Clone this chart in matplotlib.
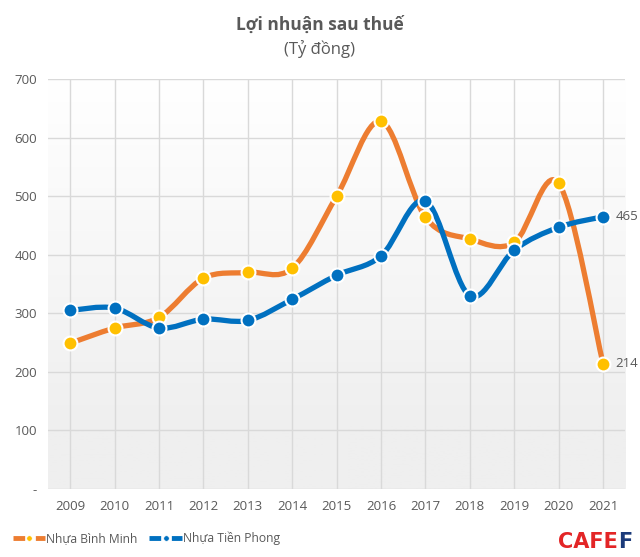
import numpy as np
import matplotlib
matplotlib.use("Agg")
import matplotlib.pyplot as plt
from matplotlib.path import Path
from matplotlib.patches import PathPatch
from matplotlib.lines import Line2D

years = ["2009", "2010", "2011", "2012", "2013", "2014", "2015",
         "2016", "2017", "2018", "2019", "2020", "2021"]
binh_minh = [249, 275, 293, 360, 370, 377, 500, 628, 464, 427, 421, 522, 214]
tien_phong = [305, 309, 275, 290, 288, 324, 365, 398, 492, 330, 408, 447, 465]
yticks = [0, 100, 200, 300, 400, 500, 600, 700]
ytick_labels = ["-", "100", "200", "300", "400", "500", "600", "700"]

ORANGE = "#ED7D31"
YELLOW = "#FFC000"
BLUE = "#0070C0"
GREY = "#595959"

plt.rcParams["font.family"] = ["Open Sans", "DejaVu Sans"]


def smooth_path(xs, ys):
    """Catmull-Rom style bezier path through the points (like Excel smoothing)."""
    pts = np.column_stack([xs, ys]).astype(float)
    n = len(pts)
    verts = [pts[0]]
    codes = [Path.MOVETO]
    for i in range(n - 1):
        p0 = pts[max(i - 1, 0)]
        p1 = pts[i]
        p2 = pts[i + 1]
        p3 = pts[min(i + 2, n - 1)]
        c1 = p1 + (p2 - p0) / 6.0
        c2 = p2 - (p3 - p1) / 6.0
        verts += [c1, c2, p2]
        codes += [Path.CURVE4] * 3
    return Path(verts, codes)


fig = plt.figure(figsize=(6.4, 5.57), dpi=100)
ax = fig.add_axes([0.075, 0.122, 0.902, 0.736])

x = np.arange(len(years))
ax.set_xlim(-0.5, len(years) - 0.5)
ax.set_ylim(0, 700)

# soft grey gradient in the plot area: white at top -> light grey at bottom
grad = np.linspace(1, 0, 256).reshape(-1, 1)
grad = np.clip(grad / 0.85, 0, 1)
bg_cmap = matplotlib.colors.LinearSegmentedColormap.from_list(
    "bg", ["#ffffff", "#efefef"])
ax.imshow(grad, extent=(-0.5, len(years) - 0.5, 0, 700), aspect="auto",
          cmap=bg_cmap, origin="lower", zorder=0, vmin=0, vmax=1)

for yv in yticks:
    ax.axhline(yv, color="#d9d9d9", lw=1.0, zorder=1)
for xv in x:
    ax.axvline(xv, color="#d9d9d9", lw=1.0, zorder=1)

for vals, col, mcol in [(binh_minh, ORANGE, YELLOW), (tien_phong, BLUE, BLUE)]:
    ax.add_patch(PathPatch(smooth_path(x, vals), fill=False, edgecolor=col,
                           lw=3.8, capstyle="round", zorder=3))
    ax.plot(x, vals, ls="none", marker="o", ms=10, mfc=mcol, mec="white",
            mew=1.5, zorder=4)

for vals in (tien_phong, binh_minh):
    ax.annotate(str(vals[-1]), (x[-1], vals[-1]), xytext=(9, 0),
                textcoords="offset points", va="center", ha="left",
                fontsize=9.5, color=GREY)

ax.set_xticks(x)
ax.set_xticklabels(years, fontsize=9.5, color=GREY)
ax.set_yticks(yticks)
ax.set_yticklabels(ytick_labels, fontsize=9.5, color=GREY)
ax.tick_params(length=0, pad=8)
for s in ax.spines.values():
    s.set_visible(False)

fig.text(0.5, 0.955, "Lợi nhuận sau thuế", ha="center", va="center",
         fontsize=12.5, fontweight="bold", color=GREY)
fig.text(0.5, 0.912, "(Tỷ đồng)", ha="center", va="center",
         fontsize=12, color=GREY)

handles = [
    Line2D([], [], color=ORANGE, lw=3.5, ls=(0, (2.4, 2.2)), marker="o",
           ms=4, mfc=YELLOW, mec="white", mew=0.5, dash_capstyle="butt"),
    Line2D([], [], color=BLUE, lw=3.5, ls=(0, (2.4, 2.2)), marker="o",
           ms=4, mfc=BLUE, mec="white", mew=0.5, dash_capstyle="butt"),
]
fig.legend(handles, ["Nhựa Bình Minh", "Nhựa Tiền Phong"], loc="center left",
           bbox_to_anchor=(0.02, 0.034), ncol=2, frameon=False, fontsize=8.7,
           labelcolor=GREY, handlelength=2.7, handletextpad=0.05,
           columnspacing=1.0, borderpad=0, borderaxespad=0)

logo = fig.text(0.872, 0.027, "CAFE", ha="left", va="center", fontsize=15,
                fontweight="heavy", color="#E32526", family="DejaVu Sans")
fig.canvas.draw()
bb = logo.get_window_extent().transformed(fig.transFigure.inverted())
fig.text(bb.x1, 0.027, "F", ha="left", va="center", fontsize=15,
         fontweight="heavy", color="#1B3A7A", family="DejaVu Sans")

fig.savefig("out.png", dpi=100)
